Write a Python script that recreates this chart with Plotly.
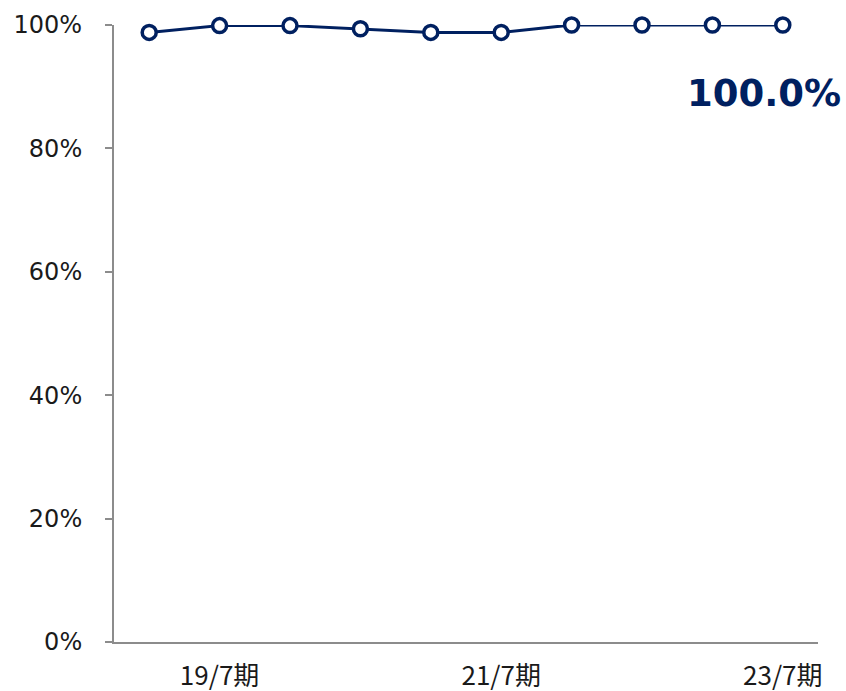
import plotly.graph_objects as go

# Occupancy rate by fiscal period
periods = ["19/1期", "19/7期", "20/1期", "20/7期", "21/1期",
           "21/7期", "22/1期", "22/7期", "23/1期", "23/7期"]
occupancy = [98.8, 99.9, 99.9, 99.4, 98.8, 98.8, 100.0, 100.0, 100.0, 100.0]

labeled_periods = ["19/7期", "21/7期", "23/7期"]
y_ticks = [0, 20, 40, 60, 80, 100]
y_tick_text = [f"{v}%" for v in y_ticks]

navy = "#002060"
axis_gray = "#8c8c8c"

x_idx = list(range(len(periods)))

fig = go.Figure()
fig.add_trace(go.Scatter(
    x=x_idx,
    y=occupancy,
    mode="lines+markers",
    line=dict(color=navy, width=3),
    marker=dict(size=14, color="white", line=dict(color=navy, width=3.5)),
    cliponaxis=False,
    hoverinfo="skip",
))

last = len(periods) - 1
fig.add_annotation(
    x=last, y=occupancy[last], xref="x", yref="y",
    text=f"<b>{occupancy[last]:.1f}%</b>",
    showarrow=False, xanchor="right", yanchor="middle",
    xshift=60, yshift=-68,
    font=dict(family="DejaVu Sans", size=37, color=navy),
)

fig.update_layout(
    width=846, height=691,
    margin=dict(l=114, r=28, t=25, b=49),
    paper_bgcolor="white", plot_bgcolor="white",
    showlegend=False,
    font=dict(family="DejaVu Sans", color="#1a1a1a"),
)
fig.update_xaxes(
    range=[-0.5, len(periods) - 0.5],
    tickmode="array",
    tickvals=[periods.index(p) for p in labeled_periods],
    ticktext=labeled_periods,
    showgrid=False, zeroline=False,
    showline=True, linecolor=axis_gray, linewidth=2,
    ticks="", ticklabelstandoff=10, automargin=False,
    tickfont=dict(family="Noto Sans CJK JP", size=26, color="#1a1a1a"),
)
fig.update_yaxes(
    range=[0, 100], automargin=False,
    tickmode="array", tickvals=y_ticks, ticktext=y_tick_text,
    showgrid=False, zeroline=False,
    showline=True, linecolor=axis_gray, linewidth=2,
    ticks="outside", ticklen=7, tickcolor=axis_gray, tickwidth=2,
    ticklabelstandoff=18,
    tickfont=dict(family="DejaVu Sans", size=24, color="#1a1a1a"),
)

fig.write_html("out.html")
